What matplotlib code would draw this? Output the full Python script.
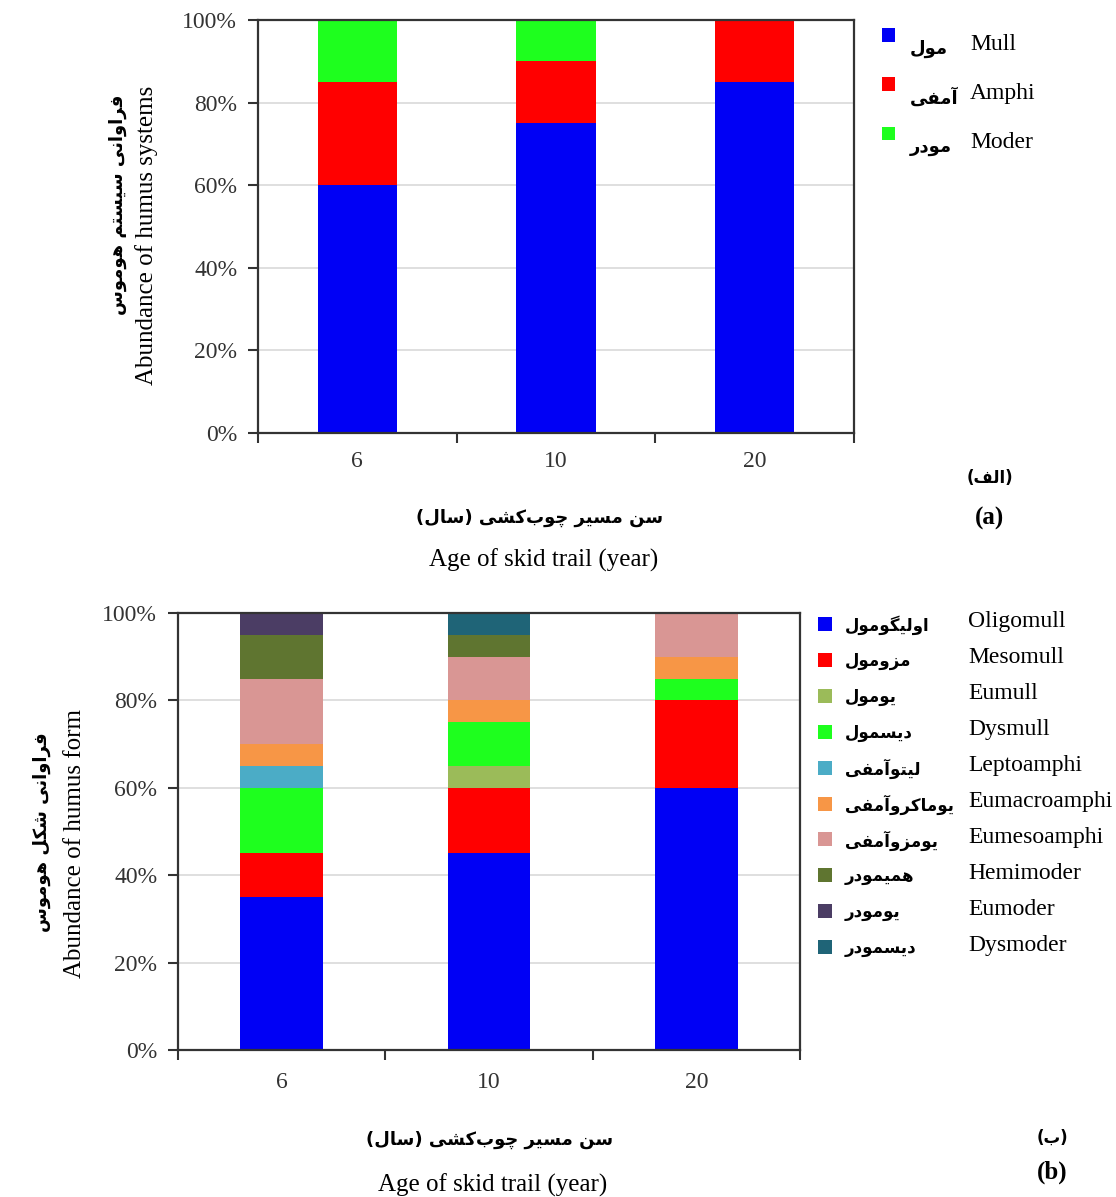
import matplotlib
matplotlib.use('Agg')
import matplotlib.pyplot as plt
import numpy as np
from matplotlib import font_manager, ft2font
from matplotlib.patches import Rectangle

ages = ['6', '10', '20']

# (a) humus systems
sys_en = ['Mull', 'Amphi', 'Moder']
sys_fa = ['مول', 'آمفی', 'مودر']
sys_colors = ['#0000f5', '#ff0000', '#1eff1e']
mull = [60, 75, 85]
amphi = [25, 15, 15]
moder = [15, 10, 0]

# (b) humus forms
form_en = ['Oligomull', 'Mesomull', 'Eumull', 'Dysmull', 'Leptoamphi',
           'Eumacroamphi', 'Eumesoamphi', 'Hemimoder', 'Eumoder', 'Dysmoder']
form_fa = ['اولیگومول', 'مزومول', 'یومول', 'دیسمول', 'لیتوآمفی',
           'یوماکروآمفی', 'یومزوآمفی', 'همیمودر', 'یومودر', 'دیسمودر']
form_colors = ['#0000f5', '#ff0000', '#9bbb59', '#1eff1e', '#4bacc6',
               '#f79646', '#d99694', '#5f7530', '#4b3d64', '#1f6477']
oligomull = [35, 45, 60]
mesomull = [10, 15, 20]
eumull = [0, 5, 0]
dysmull = [15, 10, 5]
leptoamphi = [5, 0, 0]
eumacroamphi = [5, 5, 5]
eumesoamphi = [15, 10, 10]
hemimoder = [10, 5, 0]
eumoder = [5, 0, 0]
dysmoder = [0, 5, 0]

ylab_a_en = 'Abundance of humus systems'
ylab_a_fa = 'فراوانی سیستم هوموس'
ylab_b_en = 'Abundance of humus form'
ylab_b_fa = 'فراوانی شکل هوموس'
xlab_en = 'Age of skid trail (year)'
xlab_fa = 'سن مسیر چوب\u200cکشی (سال)'

# --- minimal persian shaping (matplotlib has no complex text layout) ---
DUAL = {'ب': 0xFE8F, 'ت': 0xFE95, 'ث': 0xFE99, 'ج': 0xFE9D, 'ح': 0xFEA1,
        'خ': 0xFEA5, 'س': 0xFEB1, 'ش': 0xFEB5, 'ص': 0xFEB9, 'ض': 0xFEBD,
        'ط': 0xFEC1, 'ظ': 0xFEC5, 'ع': 0xFEC9, 'غ': 0xFECD, 'ف': 0xFED1,
        'ق': 0xFED5, 'ك': 0xFED9, 'ل': 0xFEDD, 'م': 0xFEE1, 'ن': 0xFEE5,
        'ه': 0xFEE9, 'ي': 0xFEF1, 'ی': 0xFBFC, 'ک': 0xFB8E, 'گ': 0xFB92,
        'پ': 0xFB56, 'چ': 0xFB7A}
RIGHT = {'آ': 0xFE81, 'ا': 0xFE8D, 'د': 0xFEA9, 'ذ': 0xFEAB, 'ر': 0xFEAD,
         'ز': 0xFEAF, 'و': 0xFEED, 'ژ': 0xFB8A}
FALLBACK = {0xFBFC: 0xFEEF, 0xFBFD: 0xFEF0, 0xFBFE: 0xFEF3, 0xFBFF: 0xFEF4,
            0xFB8E: 0xFED9, 0xFB8F: 0xFEDA, 0xFB90: 0xFEDB, 0xFB91: 0xFEDC}


def font_cmap(weight):
    path = font_manager.findfont(font_manager.FontProperties(family='DejaVu Sans', weight=weight))
    return set(ft2font.FT2Font(path).get_charmap().keys())


cmap_bold = font_cmap('bold')
FA_W = 'bold' if 0xFEE1 in cmap_bold else 'normal'
CMAP = cmap_bold if FA_W == 'bold' else font_cmap('normal')


def fa(text):
    chars = list(text)
    out = []
    for i, c in enumerate(chars):
        if c not in DUAL and c not in RIGHT:
            out.append('' if c == '\u200c' else c)
            continue
        prev = chars[i - 1] if i > 0 else None
        nxt = chars[i + 1] if i < len(chars) - 1 else None
        jp = prev in DUAL
        jn = c in DUAL and (nxt in DUAL or nxt in RIGHT)
        base = DUAL.get(c, RIGHT.get(c))
        if jp and jn:
            code = base + 3
        elif jp:
            code = base + 1
        elif jn:
            code = base + 2
        else:
            code = base
        if code not in CMAP:
            code = FALLBACK.get(code, code)
        out.append(chr(code) if code in CMAP else c)
    s = ''.join(out)[::-1]
    return s.translate(str.maketrans('()', ')('))


W, H = 1116, 1197
EN = 'Liberation Serif'


def P(x, y):
    return x / W, 1 - y / H


def stacked(ax, series, colors):
    x = np.arange(len(ages))
    bottom = np.zeros(len(ages))
    for vals, col in zip(series, colors):
        ax.bar(x, vals, 0.4, bottom=bottom, color=col, zorder=2)
        bottom += np.array(vals)


def style(ax, xpad):
    x = np.arange(len(ages))
    ax.set_xlim(-0.5, len(ages) - 0.5)
    ax.set_ylim(0, 100)
    ax.set_yticks(range(0, 101, 20))
    ax.set_yticklabels([f'{v}%' for v in range(0, 101, 20)], family=EN, fontsize=17, color='#333333')
    ax.yaxis.grid(True, color='#d9d9d9', lw=1.2)
    ax.set_axisbelow(True)
    ax.set_xticks(np.arange(len(ages) + 1) - 0.5)
    ax.set_xticklabels([])
    ax.set_xticks(x, minor=True)
    ax.set_xticklabels(ages, minor=True, family=EN, fontsize=17, color='#333333')
    ax.tick_params(axis='x', which='minor', length=0, pad=xpad)
    ax.tick_params(axis='x', which='major', length=7, width=1.5, direction='out', color='#333333')
    ax.tick_params(axis='y', length=7, width=1.5, pad=8, color='#333333')
    for sp in ax.spines.values():
        sp.set_color('#333333')
        sp.set_linewidth(1.6)


def legend(fig, names_fa, names_en, colors, sq_x, sq_y0, step, sq, fa_x, en_x, fa_size, fa_dy, en_dy):
    for i, (nf, ne, col) in enumerate(zip(names_fa, names_en, colors)):
        y = sq_y0 + i * step
        x0, y0 = P(sq_x, y + sq / 2)
        fig.add_artist(Rectangle((x0, y0), sq / W, sq / H, transform=fig.transFigure,
                                 facecolor=col, edgecolor='none'))
        fig.text(*P(fa_x, y + fa_dy), fa(nf), family='DejaVu Sans', weight=FA_W,
                 fontsize=fa_size, ha='left', va='center')
        fig.text(*P(en_x, y + en_dy), ne, family=EN, fontsize=17, ha='left', va='center')


fig = plt.figure(figsize=(W / 100, H / 100), dpi=100)

# panel (a)
ax1 = fig.add_axes([258 / W, 1 - 433 / H, (854 - 258) / W, (433 - 20) / H])
stacked(ax1, [mull, amphi, moder], sys_colors)
style(ax1, 13)
fig.text(*P(147, 235), ylab_a_en, family=EN, fontsize=18, rotation=90, ha='center', va='center')
fig.text(*P(118, 205), fa(ylab_a_fa), family='DejaVu Sans', weight=FA_W, fontsize=13,
         rotation=90, ha='center', va='center')
fig.text(*P(540, 518), fa(xlab_fa), family='DejaVu Sans', weight=FA_W, fontsize=13,
         ha='center', va='center')
fig.text(*P(544, 560), xlab_en, family=EN, fontsize=18, ha='center', va='center')
fig.text(*P(990, 478), fa('(الف)'), family='DejaVu Sans', weight=FA_W, fontsize=12,
         ha='center', va='center')
fig.text(*P(990, 518), '(a)', family=EN, weight='bold', fontsize=18, ha='center', va='center')
legend(fig, sys_fa, sys_en, sys_colors, 882, 35, 49, 13, 910, 970, 13, 14, 10)

# panel (b)
ax2 = fig.add_axes([178 / W, 1 - 1050 / H, (800 - 178) / W, (1050 - 613) / H])
stacked(ax2, [oligomull, mesomull, eumull, dysmull, leptoamphi, eumacroamphi,
              eumesoamphi, hemimoder, eumoder, dysmoder], form_colors)
style(ax2, 16)
fig.text(*P(75, 843), ylab_b_en, family=EN, fontsize=18, rotation=90, ha='center', va='center')
fig.text(*P(42, 832), fa(ylab_b_fa), family='DejaVu Sans', weight=FA_W, fontsize=13,
         rotation=90, ha='center', va='center')
fig.text(*P(490, 1140), fa(xlab_fa), family='DejaVu Sans', weight=FA_W, fontsize=13,
         ha='center', va='center')
fig.text(*P(493, 1185), xlab_en, family=EN, fontsize=18, ha='center', va='center')
fig.text(*P(1052, 1138), fa('(ب)'), family='DejaVu Sans', weight=FA_W, fontsize=12,
         ha='center', va='center')
fig.text(*P(1052, 1172), '(b)', family=EN, weight='bold', fontsize=18, ha='center', va='center')
legend(fig, form_fa, form_en, form_colors, 818, 624, 35.9, 14, 845, 968, 12, 1, -2)

fig.savefig('out.png', dpi=100)
